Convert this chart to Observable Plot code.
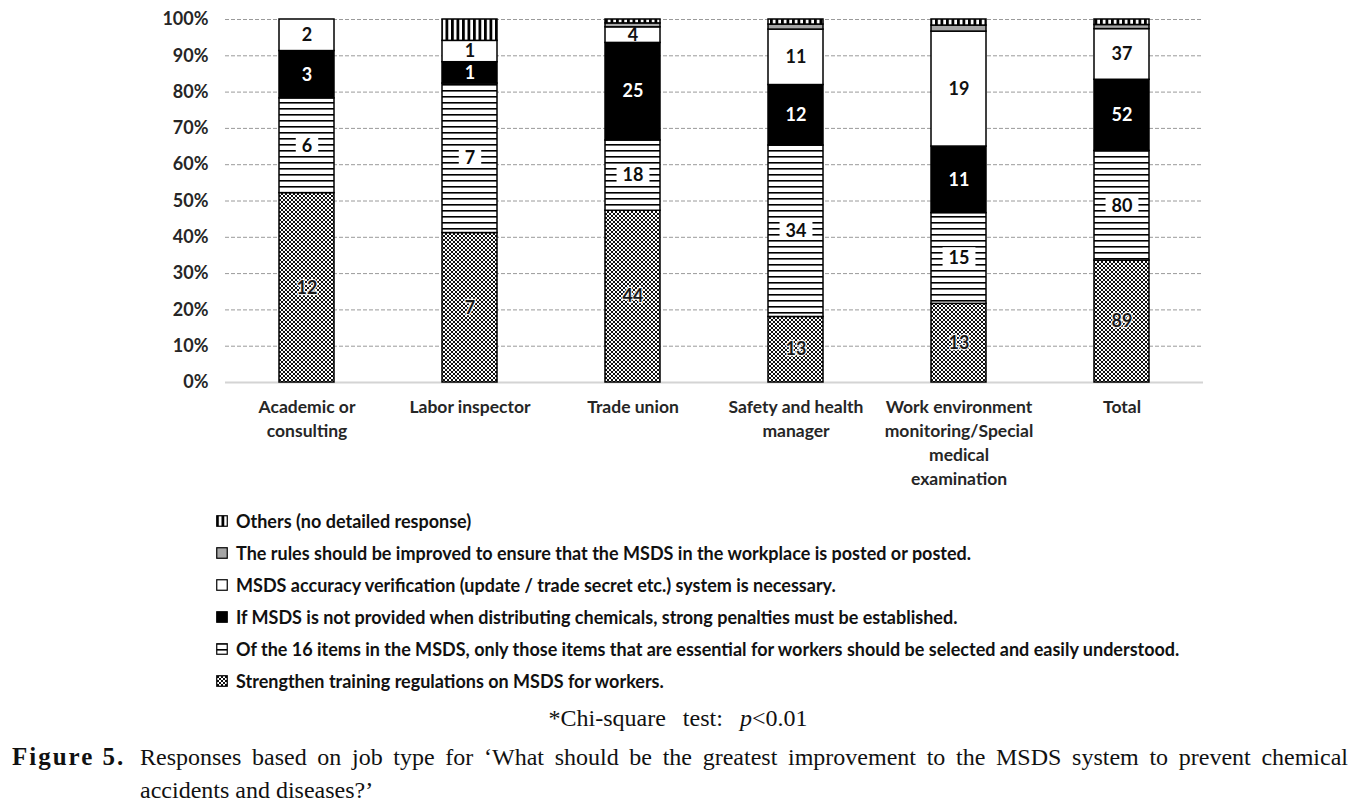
<!DOCTYPE html>
<html>
<head>
<meta charset="utf-8">
<script src="https://cdn.jsdelivr.net/npm/d3@7"></script>
<script src="https://cdn.jsdelivr.net/npm/@observablehq/plot@0.6"></script>
<style>
  html, body { margin: 0; padding: 0; background: #fff; }
  body { position: relative; width: 1366px; height: 807px; overflow: hidden; }
  #chart { position: absolute; left: 0; top: 0; }
  #legend { position: absolute; left: 216px; top: 505px; font-family: Lato, "Open Sans", sans-serif; font-weight: 700; font-size: 18px; color: #111; }
  #legend .row { height: 32px; line-height: 32px; display: flex; align-items: center; white-space: nowrap; }
  #legend svg { margin-right: 8px; flex: none; }
  #note { position: absolute; left: 0; width: 1356px; top: 703px; line-height: 30px; text-align: center; font-family: "Liberation Serif", "Times New Roman", serif; font-size: 24px; word-spacing: 11px; color: #111; }
  .cap { position: absolute; font-family: "Liberation Serif", "Times New Roman", serif; font-size: 24px; line-height: 30px; color: #111; white-space: nowrap; }
  #fig { left: 12px; top: 742px; font-weight: 700; font-size: 25px; letter-spacing: 2px; }
  #cap1 { left: 140px; width: 1208px; top: 742px; text-align: justify; text-align-last: justify; }
  #cap2 { left: 140px; top: 775px; }
</style>
</head>
<body>
<div id="chart"></div>
<div id="legend"></div>
<div id="note">*Chi-square test: <i>p</i>&lt;0.01</div>
<div id="fig" class="cap">Figure 5.</div>
<div id="cap1" class="cap">Responses based on job type for ‘What should be the greatest improvement to the MSDS system to prevent chemical</div>
<div id="cap2" class="cap">accidents and diseases?’</div>
<script>
// ---- data ----
const categories = ["Academic or consulting", "Labor inspector", "Trade union", "Safety and health manager", "Work environment monitoring/Special medical examination", "Total"];
const tickLabels = ["Academic or\nconsulting", "Labor inspector", "Trade union", "Safety and health\nmanager", "Work environment\nmonitoring/Special\nmedical\nexamination", "Total"];
// series, bottom to top of the stack
const seriesNames = [
  "Strengthen training regulations on MSDS for workers.",
  "Of the 16 items in the MSDS, only those items that are essential for workers should be selected and easily understood.",
  "If MSDS is not provided when distributing chemicals, strong penalties must be established.",
  "MSDS accuracy verification (update / trade secret etc.) system is necessary.",
  "The rules should be improved to ensure that the MSDS in the workplace is posted or posted.",
  "Others (no detailed response)"
];
const training     = [12, 7, 44, 13, 13, 89];
const essential    = [6, 7, 18, 34, 15, 80];
const penalties    = [3, 1, 25, 12, 11, 52];
const verification = [2, 1, 4, 11, 19, 37];
const postingRules = [0, 0, 1, 1, 1, 3];
const others       = [0, 1, 1, 1, 1, 4];
const yTicks = [0, 0.1, 0.2, 0.3, 0.4, 0.5, 0.6, 0.7, 0.8, 0.9, 1];

const seriesValues = [training, essential, penalties, verification, postingRules, others];
const patternIds = ["pat-train", "pat-hlines", "pat-black", "pat-white", "pat-gray", "pat-vlines"];
const rows = [];
seriesValues.forEach((vals, s) => vals.forEach((v, i) => {
  if (v > 0) rows.push({cat: categories[i], series: seriesNames[s], count: v});
}));

const font = "Lato, 'Open Sans', sans-serif";
const BOXED_FILL = "#0d0d0d";
const stackOpts = {x: "cat", y: "count", z: "series", order: seriesNames, offset: "normalize"};
function labelMark(sIdx, fill, extra) {
  return Plot.text(rows, Plot.stackY({
    ...stackOpts,
    text: d => d.series === seriesNames[sIdx] ? String(d.count) : "",
    fill, fontSize: 18, fontWeight: 700, fontFamily: font,
    ...extra
  }));
}

const chart = Plot.plot({
  width: 1366, height: 500,
  marginTop: 19, marginLeft: 225, marginRight: 163, marginBottom: 118,
  style: {fontFamily: font, background: "white"},
  x: {domain: categories, paddingInner: 0.66, paddingOuter: 0.33, label: null},
  y: {domain: [0, 1], label: null},
  color: {type: "ordinal", domain: seriesNames, range: patternIds.map(id => `url(#${id})`)},
  marks: [
    Plot.gridY(yTicks, {stroke: "#9a9a9a", strokeOpacity: 1, strokeDasharray: "4,2", strokeWidth: 1}),
    Plot.axisY(yTicks, {tickSize: 0, tickPadding: 17, tickFormat: d => Math.round(d * 100) + "%", fontSize: 18, fontWeight: 700, fill: "#262626", label: null}),
    Plot.axisX({tickSize: 0, tickPadding: 13, tickFormat: d => tickLabels[categories.indexOf(d)], fontSize: 17.5, fontWeight: 700, fill: "#262626", lineHeight: 1.38, label: null}),
    Plot.ruleY([0], {stroke: "#d4d4d4", strokeWidth: 2}),
    Plot.barY(rows, Plot.stackY({...stackOpts, fill: "series", stroke: "black", strokeWidth: 1.5})),
    labelMark(0, "#1a1a1a", {stroke: "white", strokeWidth: 2.5, strokeOpacity: 0.85}),
    labelMark(1, BOXED_FILL, {}),
    labelMark(2, "white", {}),
    labelMark(3, "#111", {})
  ]
});

// SVG patterns
const svg = d3.select(chart);
const defs = svg.insert("defs", ":first-child");
// diagonal crosshatch (training)
let p = defs.append("pattern").attr("id", "pat-train").attr("patternUnits", "userSpaceOnUse").attr("width", 4).attr("height", 4);
p.append("rect").attr("width", 4).attr("height", 4).attr("fill", "#fff");
[[0,0],[1,1],[2,2],[3,3],[0,3],[1,2],[2,1],[3,0]].forEach(([x, y]) =>
  p.append("rect").attr("x", x).attr("y", y).attr("width", 1).attr("height", 1).attr("fill", "#111"));
// horizontal lines
p = defs.append("pattern").attr("id", "pat-hlines").attr("patternUnits", "userSpaceOnUse").attr("width", 6).attr("height", 6);
p.append("rect").attr("width", 6).attr("height", 6).attr("fill", "#fff");
p.append("rect").attr("x", 0).attr("y", 0).attr("width", 6).attr("height", 1.6).attr("fill", "#000");
// solid black
p = defs.append("pattern").attr("id", "pat-black").attr("patternUnits", "userSpaceOnUse").attr("width", 4).attr("height", 4);
p.append("rect").attr("width", 4).attr("height", 4).attr("fill", "#000");
// white
p = defs.append("pattern").attr("id", "pat-white").attr("patternUnits", "userSpaceOnUse").attr("width", 4).attr("height", 4);
p.append("rect").attr("width", 4).attr("height", 4).attr("fill", "#fff");
// gray
p = defs.append("pattern").attr("id", "pat-gray").attr("patternUnits", "userSpaceOnUse").attr("width", 4).attr("height", 4);
p.append("rect").attr("width", 4).attr("height", 4).attr("fill", "#a6a6a6");
// vertical lines
p = defs.append("pattern").attr("id", "pat-vlines").attr("patternUnits", "userSpaceOnUse").attr("width", 5.5).attr("height", 6);
p.append("rect").attr("width", 5.5).attr("height", 6).attr("fill", "#fff");
p.append("rect").attr("x", 0).attr("y", 0).attr("width", 2.8).attr("height", 6).attr("fill", "#000");

document.getElementById("chart").appendChild(chart);

// white boxes behind labels that sit on the horizontal-line pattern
svg.selectAll("text").each(function () {
  if (!this.textContent) return;
  const g = this.closest("g");
  const f = (this.getAttribute("fill") || (g && g.getAttribute("fill")) || "").toLowerCase();
  if (f !== BOXED_FILL) return;
  const b = this.getBBox();
  const t = this.getAttribute("transform");
  const r = d3.select(this.parentNode).insert("rect", () => this)
    .attr("x", b.x - 6).attr("y", b.y + 1).attr("width", b.width + 12).attr("height", b.height - 2)
    .attr("fill", "white");
  if (t) r.attr("transform", t);
});

// legend (top to bottom, as in the reference)
const legend = d3.select("#legend");
for (let s = seriesNames.length - 1; s >= 0; s--) {
  const row = legend.append("div").attr("class", "row");
  const sw = row.append("svg").attr("width", 12).attr("height", 12);
  sw.append("rect").attr("x", 0.75).attr("y", 0.75).attr("width", 10.5).attr("height", 10.5)
    .attr("fill", `url(#${patternIds[s]})`).attr("stroke", "#000").attr("stroke-width", 1.2);
  row.append("span").text(seriesNames[s]);
}
</script>
</body>
</html>
